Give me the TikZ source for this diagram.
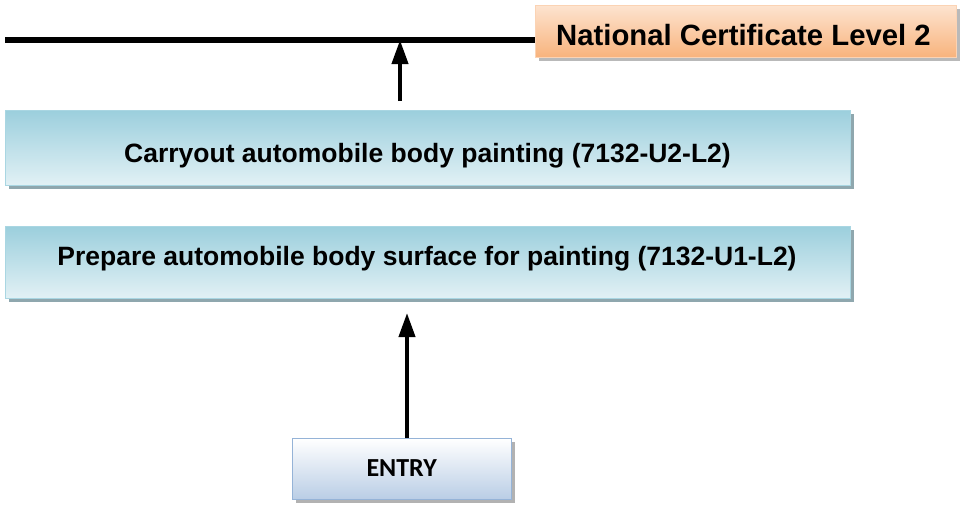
\documentclass[tikz,border=0pt]{standalone}
\usepackage{fontspec}
\setmainfont{Liberation Sans}
\newfontfamily\carlito{Carlito}
\usetikzlibrary{arrows.meta,shadows}
\definecolor{bluetop}{HTML}{9CCFDD}
\definecolor{bluebot}{HTML}{E2F1F5}
\definecolor{blueedge}{HTML}{A9D6E2}
\definecolor{orgtop}{HTML}{FDE3CF}
\definecolor{orgbot}{HTML}{F8B37C}
\definecolor{orgedge}{HTML}{FBD3B4}
\definecolor{entbot}{HTML}{B9CDE5}
\definecolor{entedge}{HTML}{95B3D7}
\definecolor{shadowc}{HTML}{8FA7AE}
\tikzset{
  x=1pt, y=-1pt,
  unitbox/.style={draw=blueedge, line width=1.2pt, top color=bluetop, bottom color=bluebot,
    inner sep=0pt,
    drop shadow={shadow xshift=3pt, shadow yshift=-3pt, fill=shadowc, opacity=1}},
  unittext/.style={font=\bfseries\fontsize{26.5}{30}\selectfont, inner sep=0pt, anchor=base},
  certbox/.style={draw=orgedge, line width=1.2pt, top color=orgtop, bottom color=orgbot,
    inner sep=0pt,
    drop shadow={shadow xshift=3pt, shadow yshift=-3pt, fill=gray!55, opacity=1}},
  certtext/.style={font=\bfseries\fontsize{29.3}{34}\selectfont, inner sep=0pt, anchor=base},
  entrybox/.style={draw=entedge, line width=1.2pt, top color=white, bottom color=entbot,
    inner sep=0pt,
    drop shadow={shadow xshift=3pt, shadow yshift=-3pt, fill=gray!60, opacity=1}},
  entrytext/.style={font=\carlito\bfseries\fontsize{26}{30}\selectfont, inner sep=0pt, anchor=base},
  uparrow/.style={line width=4pt, -{Triangle[length=24pt,width=16pt]}},
}
\begin{document}
\begin{tikzpicture}
\useasboundingbox (0,0) rectangle (975,504);
% top line
\coordinate (lineL) at (5,40);
\coordinate (lineR) at (540,40);
\draw[line width=5.5pt] (lineL) -- (lineR);
\node[certbox, minimum width=421pt, minimum height=52pt, anchor=north west] (cert) at (535,5) {};
\node[certtext] (certt) at (743.5,45) {National Certificate Level 2};
\node[unitbox, minimum width=845pt, minimum height=75pt, anchor=north west] (u2) at (5,110) {};
\node[unittext] (u2t) at (427.5,162) {Carryout automobile body painting (7132-U2-L2)};
\node[unitbox, minimum width=845pt, minimum height=72pt, anchor=north west] (u1) at (5,226) {};
\node[unittext] (u1t) at (427,265) {Prepare automobile body surface for painting (7132-U1-L2)};
\node[entrybox, minimum width=219pt, minimum height=61pt, anchor=north west] (entry) at (292,438) {};
\node[entrytext] (entryt) at (401.7,476) {ENTRY};
\coordinate (a1top) at (400,40);
\coordinate (a1bot) at (400,101);
\draw[uparrow] (a1bot) -- (a1top);
\coordinate (a2top) at (407,313);
\draw[uparrow] (entry.north -| a2top) -- (a2top);
\end{tikzpicture}
\end{document}
